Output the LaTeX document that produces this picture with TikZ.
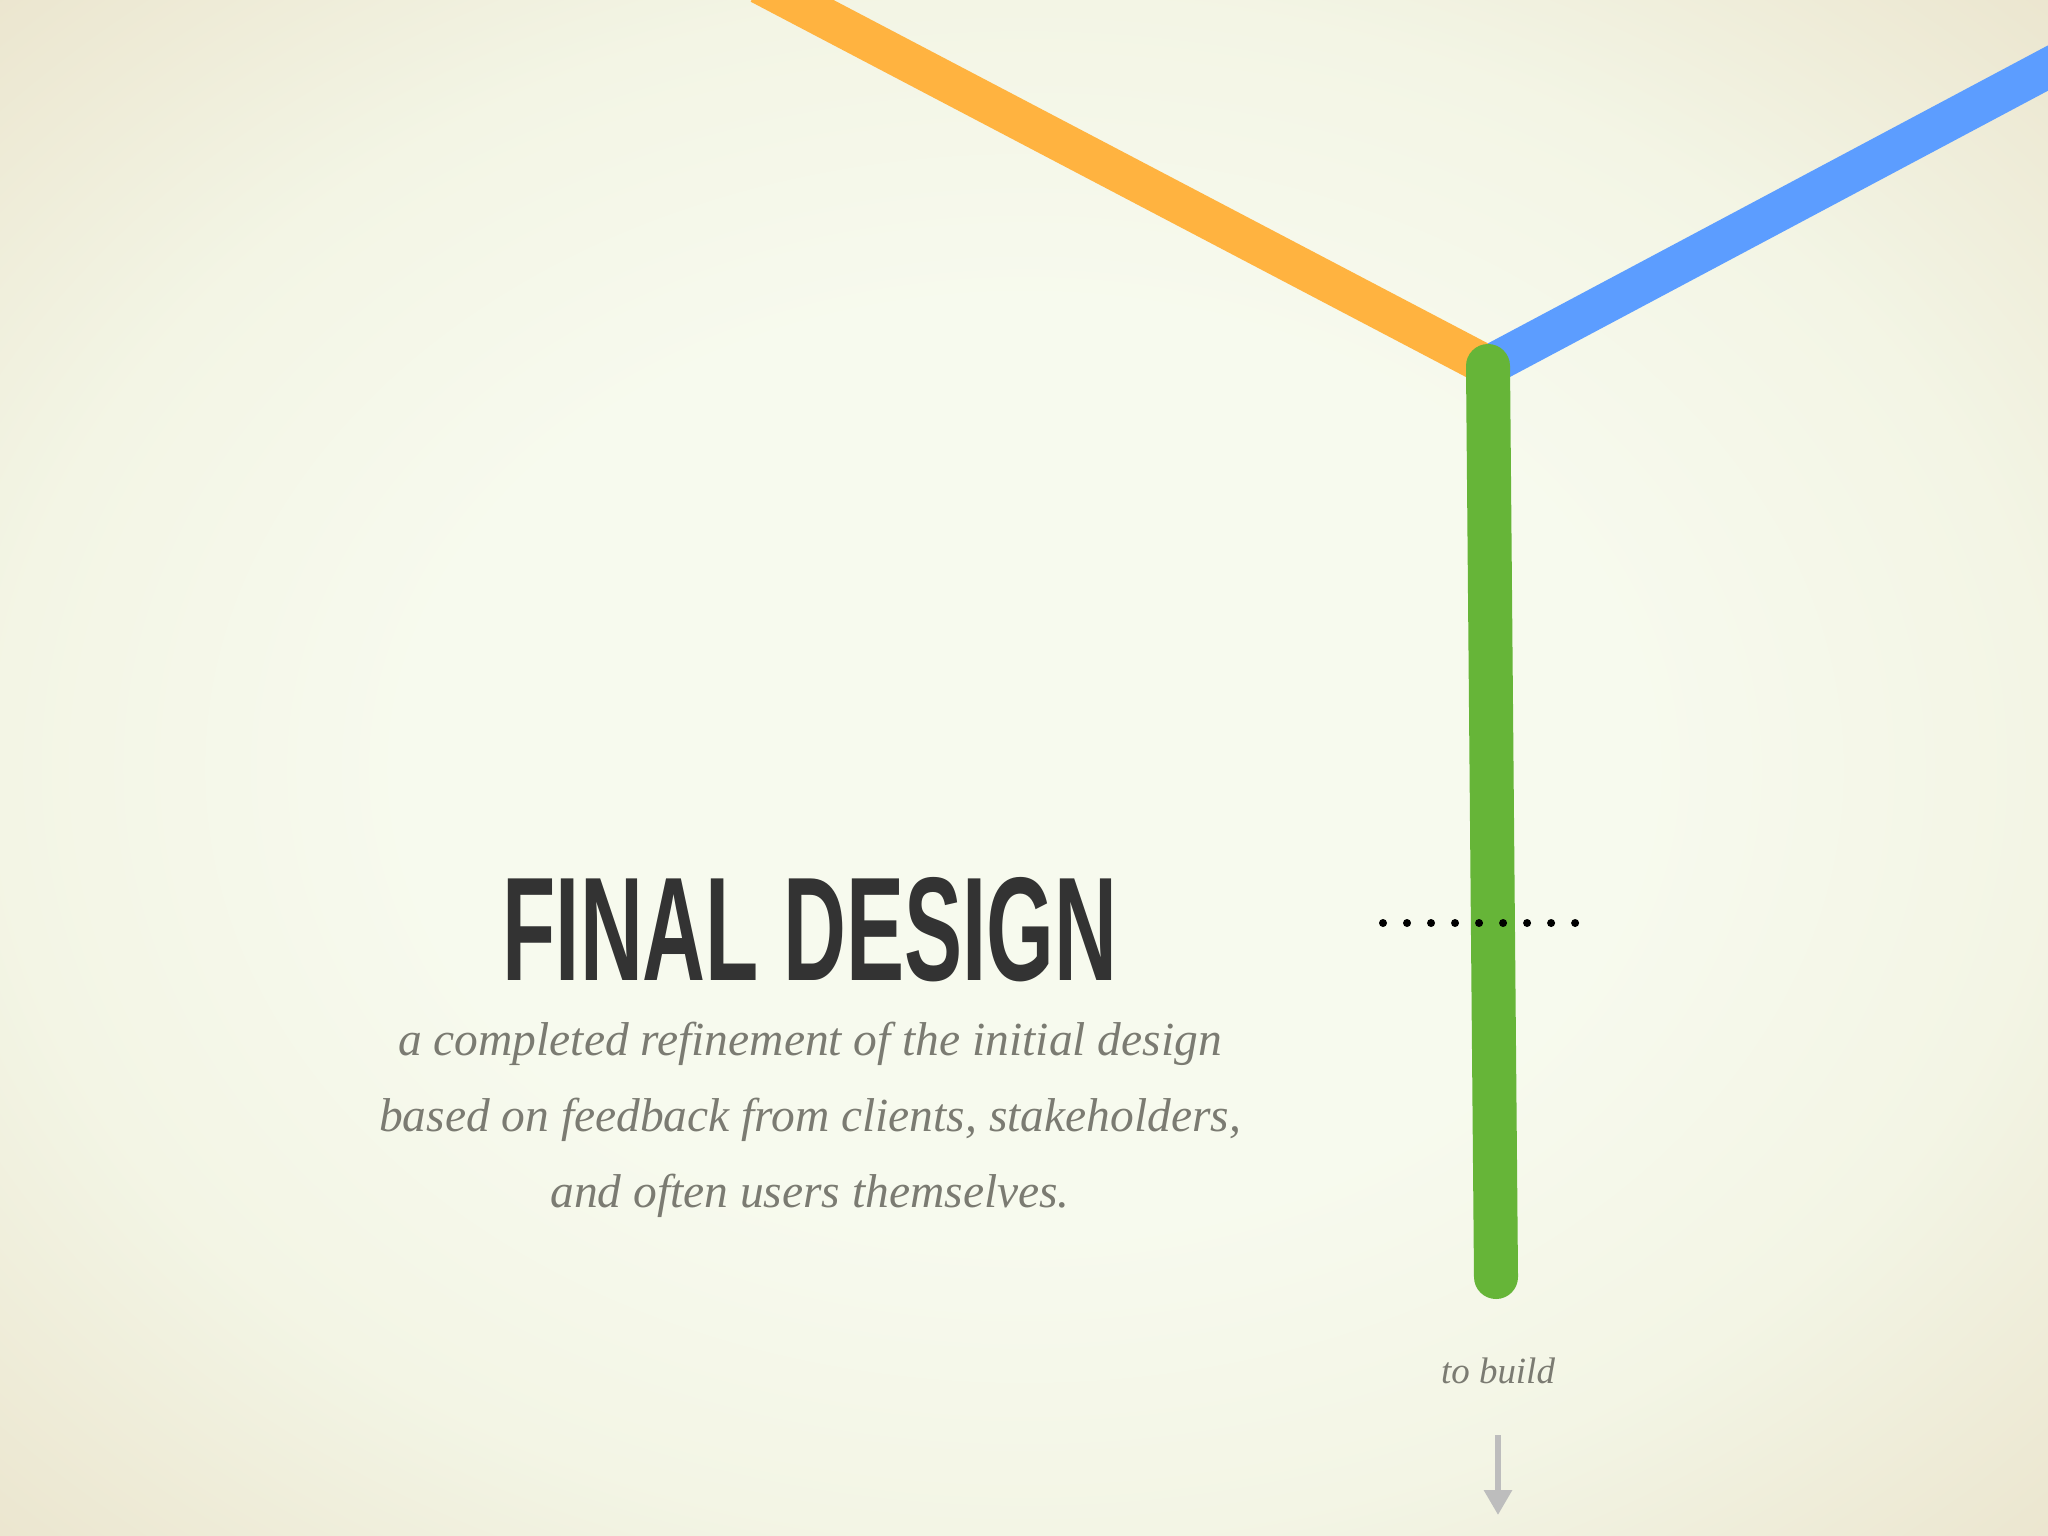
\documentclass[tikz,border=0pt]{standalone}
\usepackage{fontspec}
\usepackage{xcolor}
\usepackage{graphicx}
\usetikzlibrary{scopes,calc,arrows.meta,positioning}
\newfontfamily\titlefont{Liberation Sans}
\newfontfamily\subfont{Liberation Serif}
\definecolor{bgin}{HTML}{F7FAEE}
\definecolor{bgmid}{HTML}{F3F5E5}
\definecolor{bgout}{HTML}{EBE5CE}
\definecolor{lineorange}{HTML}{FFB340}
\definecolor{lineblue}{HTML}{5C9DFF}
\definecolor{linegreen}{HTML}{66B538}
\definecolor{titlegray}{HTML}{333333}
\definecolor{textgray}{HTML}{7B7B72}
\definecolor{arrowgray}{HTML}{BDBDBD}
\pgfdeclareradialshading{vignette}{\pgfpoint{0bp}{0bp}}{%
  color(0bp)=(bgin); color(15bp)=(bgin); color(25bp)=(bgmid);
  color(36bp)=(bgout); color(50bp)=(bgout)}
\tikzset{
  myline/.style={line cap=butt,line width=0.40cm},
  orangeline/.style={myline,draw=lineorange},
  blueline/.style={myline,draw=lineblue},
  greenline/.style={line cap=round,line width=0.44cm,draw=linegreen},
  mydots/.style={line width=0.08cm,line cap=round,dash pattern=on 0pt off 0.24cm},
  mytitle/.style={anchor=base,inner sep=0pt,text=titlegray,
    font=\titlefont\bfseries\fontsize{42}{42}\selectfont},
  mysub/.style={anchor=base,inner sep=0pt,text=textgray,
    font=\subfont\itshape\fontsize{13.5}{16}\selectfont},
  mynote/.style={mysub,font=\subfont\itshape\fontsize{10.5}{12}\selectfont},
  myarrow/.style={draw=arrowgray,line width=0.06cm,
    -{Triangle[width=0.27cm,length=0.25cm]}}
}
\begin{document}
\begin{tikzpicture}[x=0.01cm,y=-0.01cm]
  \useasboundingbox (0,0) rectangle (2048,1536);
  \clip (0,0) rectangle (2048,1536);
  \shade[shading=vignette] (0,0) rectangle (2048,1536);
  \coordinate (hub) at (1488,366);
  \coordinate (orangein) at (760,-16);
  \coordinate (bluein) at (2080,51);
  \coordinate (greenend) at (1496,1277);
  % the three lines meet at the hub
  {[orangeline]
    \clip (0,0) rectangle (hub |- 0,1536);
    \draw (orangein) -- ($(hub)!-0.05!(orangein)$);
  }
  {[blueline]
    \clip (hub |- 0,0) rectangle (2048,1536);
    \draw ($(hub)!-0.05!(bluein)$) -- (bluein);
  }
  \draw[greenline] (hub) -- (greenend);
  \coordinate (dotl) at (1383,923);
  \coordinate (dotr) at (1576,923);
  \draw[mydots] (dotl) -- (dotr);
  \node[mytitle] (title) at (810,980) {\scalebox{0.59}[1]{FINAL DESIGN}};
  \node[mysub] (sub1) at (810,1055) {a completed refinement of the initial design};
  \node[mysub] (sub2) at (810,1131) {based on feedback from clients, stakeholders,};
  \node[mysub] (sub3) at (810,1207) {and often users themselves.};
  \node[mynote] (note) at (1498,1383) {to build};
  \coordinate (arrowtop) at (1498,1435);
  \coordinate (arrowtip) at (1498,1515);
  \draw[myarrow] (arrowtop) -- (arrowtip);
\end{tikzpicture}
\end{document}
